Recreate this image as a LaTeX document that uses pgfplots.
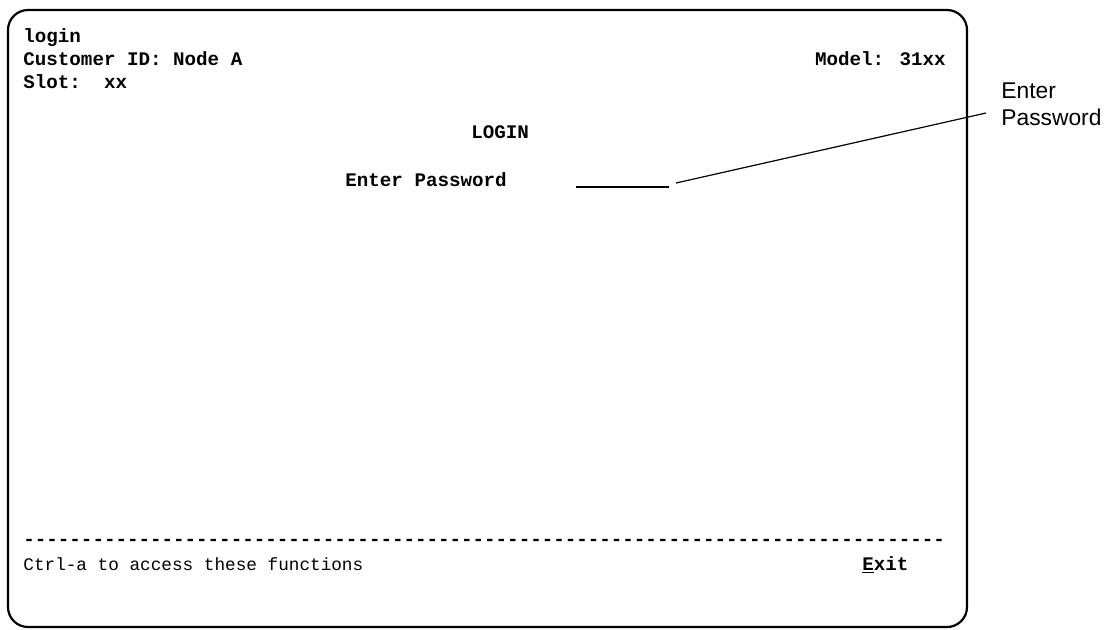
\documentclass[border=0pt]{standalone}
\usepackage{pgfplots}
\pgfplotsset{compat=1.18}
\usepackage{fontspec}
\newfontfamily\mono{Liberation Mono}
\newfontfamily\arial{Liberation Sans}
\newcommand{\mb}{\mono\bfseries\fontsize{9.6}{11}\selectfont}
\begin{document}
\begin{tikzpicture}
\begin{axis}[
  width=556pt, height=314.5pt, scale only axis,
  xmin=0, xmax=1112, ymin=0, ymax=629, y dir=reverse,
  hide axis, clip=false]
\path (axis cs:0,0) rectangle (axis cs:1112,629);
% terminal frame
\draw[line width=1.1pt, rounded corners=10pt] (axis cs:8,10) rectangle (axis cs:967,627);
% password entry field and callout
\addplot[black, line width=0.6pt, mark=none] coordinates {(576,187) (669,187)};
\addplot[black, line width=0.6pt, mark=none] coordinates {(676,183) (986,113)};
% screen text
\node[anchor=base west, inner sep=0pt] at (axis cs:23,42) {\mb login};
\node[anchor=base west, inner sep=0pt] at (axis cs:23,65) {\mb Customer ID: Node A};
\node[anchor=base west, inner sep=0pt] at (axis cs:23,88) {\mb Slot:\ \ xx};
\node[anchor=base east, inner sep=0pt] at (axis cs:946,65) {\mb Model: 31xx};
\node[anchor=base west, inner sep=0pt] at (axis cs:471,138) {\mb LOGIN};
\node[anchor=base west, inner sep=0pt] at (axis cs:345,186) {\mb Enter Password};
\node[anchor=base west, inner sep=0pt] at (axis cs:23,545) {\mb --------------------------------------------------------------------------------};
\node[anchor=base west, inner sep=0pt] at (axis cs:23,570) {\mono\fontsize{8.85}{10}\selectfont Ctrl-a to access these functions};
\node[anchor=base west, inner sep=0pt] at (axis cs:862,570) {\mb \underline{E}xit};
% callout label
\node[anchor=base west, inner sep=0pt, align=left, font=\arial\fontsize{11.4}{13.5}\selectfont] at (axis cs:1001,125) {Enter\\Password};
\end{axis}
\end{tikzpicture}
\end{document}
